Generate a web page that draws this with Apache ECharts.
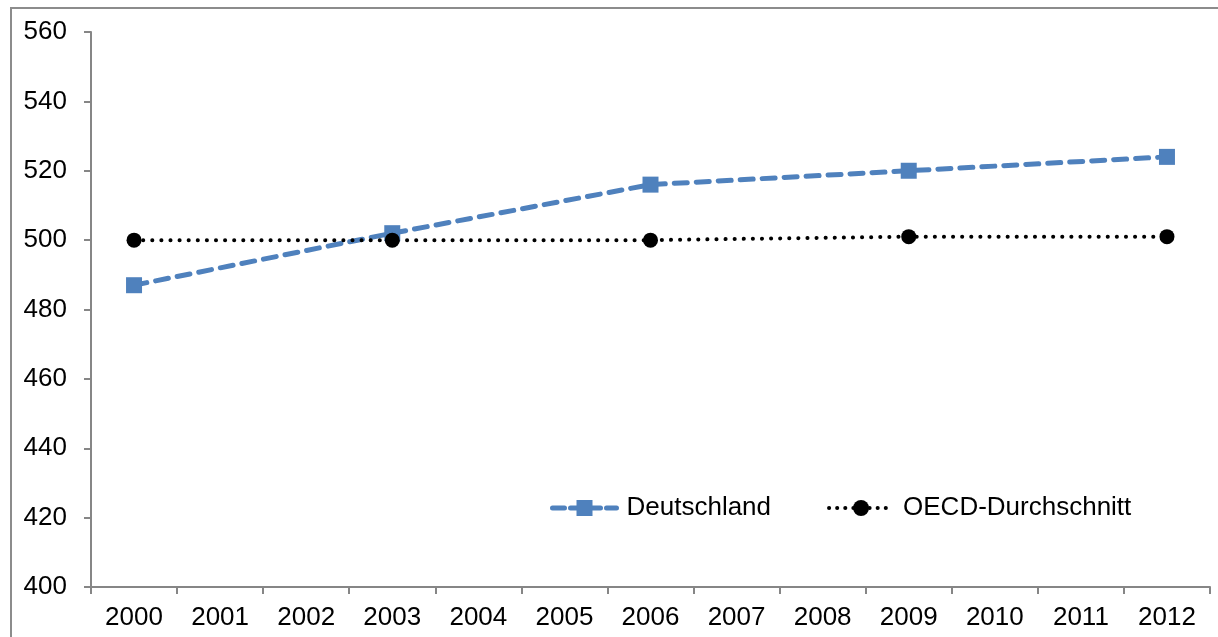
<!DOCTYPE html>
<html><head><meta charset="utf-8">
<script src="https://cdn.jsdelivr.net/npm/echarts@6/dist/echarts.min.js"></script>
<style>html,body{margin:0;padding:0;background:#fff}#c{width:1218px;height:637px}</style>
</head><body><div id="c"></div>
<script>
const categories = ['2000','2001','2002','2003','2004','2005','2006','2007','2008','2009','2010','2011','2012'];
const deutschland = [487, null, null, 502, null, null, 516, null, null, 520, null, null, 524];
const oecd = [500, null, null, 500, null, null, 500, null, null, 501, null, null, 501];
const yTicks = [400, 420, 440, 460, 480, 500, 520, 540, 560];

const chart = echarts.init(document.getElementById('c'));
const font = 'Liberation Sans, Arial, sans-serif';
chart.setOption({
  animation: false,
  graphic: [{type:'rect', shape:{x:11, y:8, width:1400, height:800}, style:{fill:'none', stroke:'#8c8c8c', lineWidth:2}, silent:true}],
  grid: {left: 91, right: 8, top: 32, bottom: 50},
  legend: {
    left: 545, top: 490, itemWidth: 64, itemHeight: 20, itemGap: 56,
    textStyle: {fontFamily: font, fontSize: 26, color: '#000', padding:[0,0,0,5]},
    data: [
      {name: 'Deutschland', lineStyle: {width: 5, type: [12, 6], cap: 'round'}},
      {name: 'OECD-Durchschnitt', lineStyle: {width: 4, type: [0.1, 8], cap: 'round'}}
    ]
  },
  xAxis: {
    type: 'category', data: categories, boundaryGap: true,
    axisLine: {lineStyle: {color: '#868686', width: 2}},
    axisTick: {show: true, length: 7, lineStyle: {color: '#868686', width: 2}},
    axisLabel: {fontFamily: font, fontSize: 26, color: '#000', margin: 18}
  },
  yAxis: {
    type: 'value', min: 400, max: 560, interval: 20,
    axisLine: {show: true, lineStyle: {color: '#868686', width: 2}},
    axisTick: {show: true, length: 7, lineStyle: {color: '#868686', width: 2}},
    splitLine: {show: false},
    axisLabel: {fontFamily: font, fontSize: 26, color: '#000', margin: 24,
      formatter: v => yTicks.includes(v) ? String(v) : ''}
  },
  series: [
    {name: 'Deutschland', type: 'line', data: deutschland, connectNulls: true,
     symbol: 'rect', symbolSize: 16, color: '#4F81BD',
     itemStyle: {color: '#4F81BD'},
     lineStyle: {color: '#4F81BD', width: 5, type: [13, 9], cap: 'round'}},
    {name: 'OECD-Durchschnitt', type: 'line', data: oecd, connectNulls: true,
     symbol: 'circle', symbolSize: 15, color: '#000',
     itemStyle: {color: '#000'},
     lineStyle: {color: '#000', width: 4, type: [0.1, 9], cap: 'round'}}
  ]
});
</script></body></html>
